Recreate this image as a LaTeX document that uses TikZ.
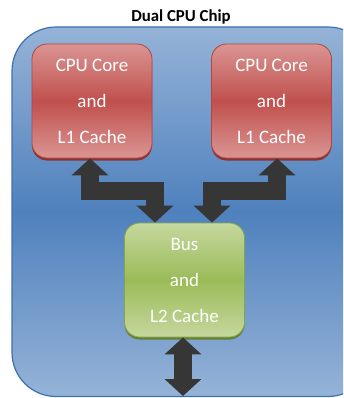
\documentclass[tikz,border=0pt]{standalone}
\usepackage{fontspec}
\setmainfont{Carlito}
\usetikzlibrary{arrows.meta,shadows}
\definecolor{bluelt}{HTML}{95B3D7}
\definecolor{bluedk}{HTML}{4F81BD}
\definecolor{blueedge}{HTML}{3F6FAF}
\definecolor{redlt}{HTML}{DA9593}
\definecolor{reddk}{HTML}{C0504D}
\definecolor{rededge}{HTML}{B04543}
\definecolor{redsh}{HTML}{8A3331}
\definecolor{greenlt}{HTML}{C5D89E}
\definecolor{greendk}{HTML}{9BBB59}
\definecolor{greenedge}{HTML}{86A548}
\definecolor{greensh}{HTML}{657F33}
\definecolor{arrowc}{HTML}{363636}
\tikzset{
  box/.style={rounded corners=15pt, minimum width=120pt, minimum height=114pt,
    inner sep=0pt, align=center, text=white, line width=0.8pt,
    font=\fontsize{19}{36}\selectfont},
  corebox/.style={box, draw=rededge, top color=redlt, bottom color=redlt, middle color=reddk,
    drop shadow={shadow xshift=0pt, shadow yshift=-2.5pt, fill=redsh, opacity=1}},
  busbox/.style={box, draw=greenedge, top color=greenlt, bottom color=greenlt, middle color=greendk,
    drop shadow={shadow xshift=0pt, shadow yshift=-2.5pt, fill=greensh, opacity=1}},
  bigarrow/.style={draw=arrowc, line width=18pt, line join=miter,
    {Triangle[width=36pt,length=17pt]}-{Triangle[width=36pt,length=17pt]}}
}
\begin{document}
\begin{tikzpicture}[x=1pt,y=-1pt]
\useasboundingbox (0,0) rectangle (343,398);
\clip (0,0) rectangle (343,398);
\node[font=\fontsize{16.8}{20}\selectfont\bfseries] (title) at (181,17) {Dual CPU Chip};
\shade[rounded corners=44pt, top color=bluelt, bottom color=bluelt, middle color=bluedk,
  draw=blueedge, line width=1.2pt] (12,27) rectangle (372,396.5);
\node[corebox] (c1) at (92,101) {CPU Core\\and\\L1 Cache};
\node[corebox] (c2) at (271.5,101) {CPU Core\\and\\L1 Cache};
\node[busbox] (bus) at (184.5,280) {Bus\\and\\L2 Cache};
\coordinate (out) at (183,396);
\draw[bigarrow] ([xshift=-2pt]c1.south) -- ++(0,33) -| ([xshift=-29.5pt]bus.north);
\draw[bigarrow] ([xshift=5.5pt]c2.south) -- ++(0,33) -| ([xshift=27.5pt]bus.north);
\draw[bigarrow] ([xshift=-1.5pt]bus.south) -- (out);
\end{tikzpicture}
\end{document}
